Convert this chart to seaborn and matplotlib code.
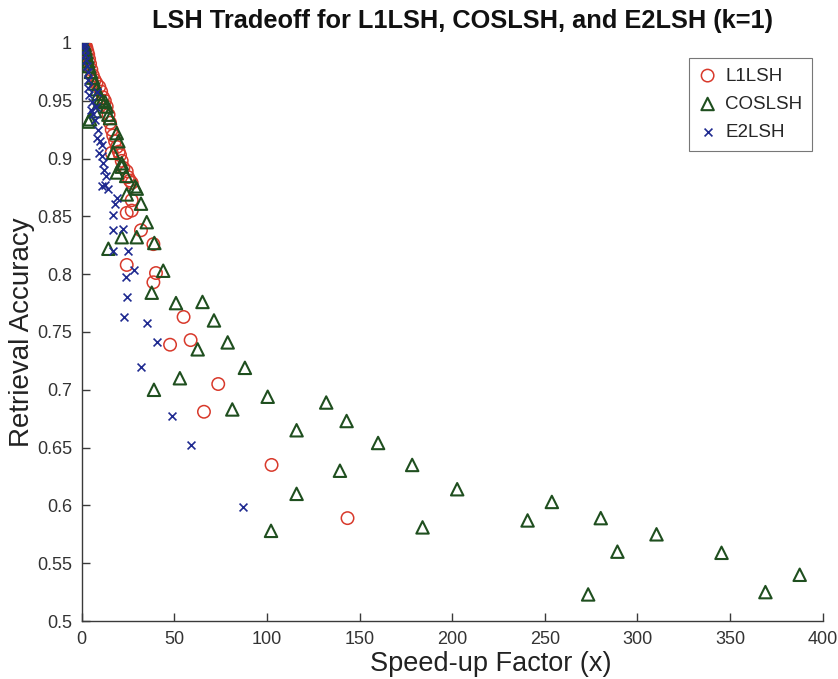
import numpy as np
import pandas as pd
import matplotlib
matplotlib.use("Agg")
import matplotlib.pyplot as plt
import seaborn as sns
from matplotlib.ticker import FuncFormatter

# Speed-up factor (x) and retrieval accuracy for each hashing scheme
l1_speedup = [1.0, 1.5, 2.0, 2.5, 3.0, 3.5, 4.0, 4.5, 5.2, 6.0, 7.0, 8.0, 9.5, 10.5,
              11.5, 12.5, 13.5, 14.5, 15.3, 16.2, 17.0, 18.0, 19.0, 20.0, 20.7, 16.2,
              21.6, 22.5, 24.3, 25.0, 26.0, 27.0, 27.0, 27.0, 24.3, 32.0, 38.7, 24.3,
              40.1, 38.7, 55.0, 58.8, 47.7, 73.7, 66.0, 102.5, 143.5]
l1_accuracy = [1.000, 0.999, 0.998, 0.996, 0.993, 0.990, 0.986, 0.982, 0.977, 0.972,
               0.968, 0.965, 0.962, 0.958, 0.953, 0.950, 0.945, 0.938, 0.931, 0.925,
               0.920, 0.915, 0.910, 0.906, 0.903, 0.905, 0.898, 0.892, 0.889, 0.884,
               0.881, 0.879, 0.864, 0.855, 0.853, 0.838, 0.826, 0.808, 0.801, 0.793,
               0.763, 0.743, 0.739, 0.705, 0.681, 0.635, 0.589]

cos_speedup = [1.0, 1.5, 2.0, 2.5, 3.0, 3.5, 4.0, 5.0, 6.0, 7.0, 8.0, 9.0, 10.0, 11.0,
               12.6, 13.5, 14.4, 15.3, 7.2, 3.6, 4.5, 18.9, 19.8, 17.0, 21.6, 21.6,
               19.0, 24.0, 28.8, 29.7, 24.3, 32.0, 35.1, 21.6, 29.7, 39.2, 14.4, 44.0,
               37.8, 50.9, 65.2, 71.4, 62.6, 78.8, 88.1, 53.0, 39.0, 100.4, 81.3, 132.0,
               116.0, 143.0, 160.0, 139.4, 116.0, 178.4, 102.2, 184.0, 202.7, 240.7,
               253.8, 273.4, 280.2, 289.2, 310.3, 345.4, 369.1, 387.6]
cos_accuracy = [1.000, 0.998, 0.995, 0.992, 0.988, 0.984, 0.980, 0.975, 0.970, 0.965,
                0.960, 0.956, 0.952, 0.950, 0.949, 0.945, 0.938, 0.935, 0.941, 0.932,
                0.934, 0.922, 0.915, 0.905, 0.896, 0.893, 0.888, 0.885, 0.876, 0.874,
                0.869, 0.861, 0.845, 0.832, 0.832, 0.827, 0.822, 0.803, 0.784, 0.775,
                0.776, 0.760, 0.735, 0.741, 0.719, 0.710, 0.700, 0.694, 0.683, 0.689,
                0.665, 0.673, 0.654, 0.630, 0.610, 0.635, 0.578, 0.581, 0.614, 0.587,
                0.603, 0.523, 0.589, 0.560, 0.575, 0.559, 0.525, 0.540]

e2_speedup = [1.0, 1.3, 1.6, 2.0, 2.4, 2.8, 3.2, 3.6, 3.6, 4.2, 5.4, 4.8, 6.3, 7.0,
              8.1, 7.5, 9.0, 8.5, 10.0, 10.8, 9.5, 11.0, 11.7, 12.0, 13.0, 12.6, 10.8,
              14.0, 18.9, 18.0, 17.0, 17.0, 22.1, 16.7, 24.8, 28.4, 23.9, 24.3, 23.0,
              35.1, 40.5, 32.0, 48.9, 58.8, 87.2]
e2_accuracy = [1.000, 0.997, 0.994, 0.990, 0.985, 0.980, 0.975, 0.968, 0.961, 0.955,
               0.949, 0.942, 0.939, 0.933, 0.958, 0.945, 0.925, 0.918, 0.915, 0.912,
               0.905, 0.902, 0.896, 0.890, 0.885, 0.877, 0.876, 0.874, 0.866, 0.861,
               0.851, 0.838, 0.839, 0.820, 0.820, 0.804, 0.798, 0.780, 0.763, 0.758,
               0.741, 0.720, 0.677, 0.652, 0.599]

method_names = ["L1LSH", "COSLSH", "E2LSH"]
x_ticks = [0, 50, 100, 150, 200, 250, 300, 350, 400]
y_ticks = [0.5, 0.55, 0.6, 0.65, 0.7, 0.75, 0.8, 0.85, 0.9, 0.95, 1.0]

sns.set_theme(style="white")
plt.rcParams["font.family"] = ["Liberation Sans", "DejaVu Sans"]

fig = plt.figure(figsize=(8.38, 6.79), dpi=100)
ax = fig.add_axes([0.0975, 0.0854, 0.8842, 0.8513])

series = [
    (l1_speedup, l1_accuracy, "o", "#d8392b", 80, 1.1),
    (cos_speedup, cos_accuracy, "^", "#1f4f1f", 80, 1.5),
    (e2_speedup, e2_accuracy, "x", "#1f2a90", 32, 1.2),
]
for name, (xs, ys, mk, col, size, lw) in zip(method_names, series):
    df = pd.DataFrame({"speedup": xs, "accuracy": ys})
    sns.scatterplot(data=df, x="speedup", y="accuracy", marker=mk, color=col,
                    s=size, linewidth=lw, ax=ax, label=name, zorder=3)
    coll = ax.collections[-1]
    if mk != "x":
        coll.set_facecolor("none")
    coll.set_edgecolor(col)

ax.set_xlim(0, 400)
ax.set_ylim(0.5, 1.0)
ax.set_xticks(x_ticks)
ax.set_yticks(y_ticks)
ax.yaxis.set_major_formatter(FuncFormatter(lambda v, p: f"{v:g}"))
ax.tick_params(direction="in", length=6, width=1.0, colors="#3a3a3a",
               labelsize=13, labelcolor="#333333", pad=7,
               bottom=True, left=True)
for side in ["top", "right"]:
    ax.spines[side].set_visible(False)
for side in ["left", "bottom"]:
    ax.spines[side].set_color("#3a3a3a")
    ax.spines[side].set_linewidth(1.0)

ax.set_xlabel("Speed-up Factor (x)", fontsize=19.5, color="#222222", labelpad=2)
ax.xaxis.set_label_coords(0.552, -0.052)
ax.set_ylabel("Retrieval Accuracy", fontsize=20, color="#222222", labelpad=1)
ax.set_title("LSH Tradeoff for L1LSH, COSLSH, and E2LSH (k=1)", fontsize=18.3,
             fontweight="bold", color="#111111", pad=11, x=0.514)

leg = ax.legend(loc="upper right", bbox_to_anchor=(0.9855, 0.974), fontsize=13.5,
                frameon=True, fancybox=False, edgecolor="#555555",
                borderaxespad=0.0, handletextpad=0.45, borderpad=0.5,
                labelspacing=0.6, handlelength=1.0)
leg.get_frame().set_linewidth(0.8)

fig.savefig("out.png", dpi=100, facecolor="white")
